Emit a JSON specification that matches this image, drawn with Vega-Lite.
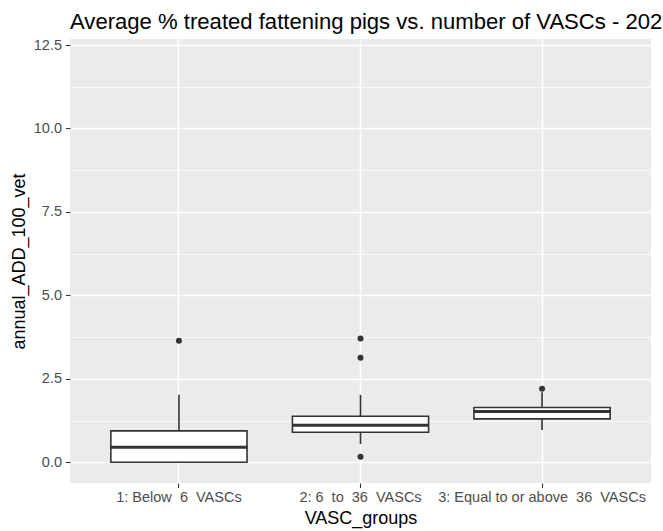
{
  "$schema": "https://vega.github.io/schema/vega-lite/v6.json",
  "width": 581,
  "height": 444,
  "autosize": {"type": "none"},
  "padding": {"left": 70, "top": 39, "right": 12, "bottom": 48},
  "background": "white",
  "title": {
    "text": "Average % treated fattening pigs vs. number of VASCs - 202",
    "anchor": "start",
    "frame": "group",
    "font": "Liberation Sans",
    "fontSize": 22.1,
    "fontWeight": "normal",
    "color": "black",
    "baseline": "alphabetic",
    "offset": -14
  },
  "config": {
    "view": {"fill": "#EBEBEB", "stroke": null},
    "axis": {
      "domain": false,
      "tickColor": "#333333",
      "tickSize": 4.5,
      "tickWidth": 1.1,
      "labelColor": "#4D4D4D",
      "labelFont": "Liberation Sans",
      "labelFontSize": 14.5,
      "labelLimit": 0,
      "titleFont": "Liberation Sans",
      "titleFontSize": 18,
      "titleFontWeight": "normal",
      "titleColor": "black",
      "gridColor": "white"
    }
  },
  "datasets": {
    "boxes": [
      {"VASC_groups": "1: Below \u00a06 \u00a0VASCs", "lower": 0.0, "q1": 0.0, "median": 0.45, "q3": 0.94, "upper": 2.02},
      {"VASC_groups": "2: 6 \u00a0to \u00a036 \u00a0VASCs", "lower": 0.55, "q1": 0.90, "median": 1.11, "q3": 1.38, "upper": 2.02},
      {"VASC_groups": "3: Equal to or above \u00a036 \u00a0VASCs", "lower": 0.97, "q1": 1.30, "median": 1.52, "q3": 1.64, "upper": 2.1}
    ],
    "outliers": [
      {"VASC_groups": "1: Below \u00a06 \u00a0VASCs", "annual_ADD_100_vet": 3.64},
      {"VASC_groups": "2: 6 \u00a0to \u00a036 \u00a0VASCs", "annual_ADD_100_vet": 3.71},
      {"VASC_groups": "2: 6 \u00a0to \u00a036 \u00a0VASCs", "annual_ADD_100_vet": 3.13},
      {"VASC_groups": "2: 6 \u00a0to \u00a036 \u00a0VASCs", "annual_ADD_100_vet": 0.17},
      {"VASC_groups": "3: Equal to or above \u00a036 \u00a0VASCs", "annual_ADD_100_vet": 2.2}
    ]
  },
  "layer": [
    {
      "data": {"name": "boxes"},
      "mark": {"type": "rule", "color": "#333333", "strokeWidth": 1.6},
      "encoding": {
        "x": {
          "field": "VASC_groups",
          "type": "nominal",
          "sort": null,
          "scale": {"type": "band", "paddingInner": 0.25, "paddingOuter": 0.225},
          "axis": {
            "title": "VASC_groups",
            "labelAngle": 0,
            "labelPadding": 3,
            "titlePadding": 5,
            "grid": true,
            "gridWidth": 1.5,
            "bandPosition": 0.5
          }
        },
        "y": {
          "field": "lower",
          "type": "quantitative",
          "scale": {"domain": [-0.62, 12.68], "nice": false, "zero": false},
          "axis": {
            "title": "annual_ADD_100_vet",
            "values": [0, 1.25, 2.5, 3.75, 5, 6.25, 7.5, 8.75, 10, 11.25, 12.5],
            "labelExpr": "datum.value % 2.5 === 0 ? format(datum.value, '.1f') : ''",
            "tickOpacity": {"condition": {"test": "datum.value % 2.5 !== 0", "value": 0}, "value": 1},
            "gridWidth": {"condition": {"test": "datum.value % 2.5 !== 0", "value": 0.75}, "value": 1.5},
            "labelPadding": 4,
            "titlePadding": 5
          }
        },
        "y2": {"field": "upper"}
      }
    },
    {
      "data": {"name": "boxes"},
      "mark": {"type": "bar", "fill": "white", "stroke": "#333333", "strokeWidth": 1.6},
      "encoding": {
        "x": {"field": "VASC_groups", "type": "nominal", "sort": null},
        "y": {"field": "q1", "type": "quantitative"},
        "y2": {"field": "q3"}
      }
    },
    {
      "data": {"name": "boxes"},
      "mark": {"type": "tick", "color": "#333333", "size": 137, "thickness": 3, "opacity": 1},
      "encoding": {
        "x": {"field": "VASC_groups", "type": "nominal", "sort": null},
        "y": {"field": "median", "type": "quantitative"}
      }
    },
    {
      "data": {"name": "outliers"},
      "mark": {"type": "circle", "color": "#333333", "size": 36, "opacity": 1},
      "encoding": {
        "x": {"field": "VASC_groups", "type": "nominal", "sort": null},
        "y": {"field": "annual_ADD_100_vet", "type": "quantitative"}
      }
    }
  ]
}
